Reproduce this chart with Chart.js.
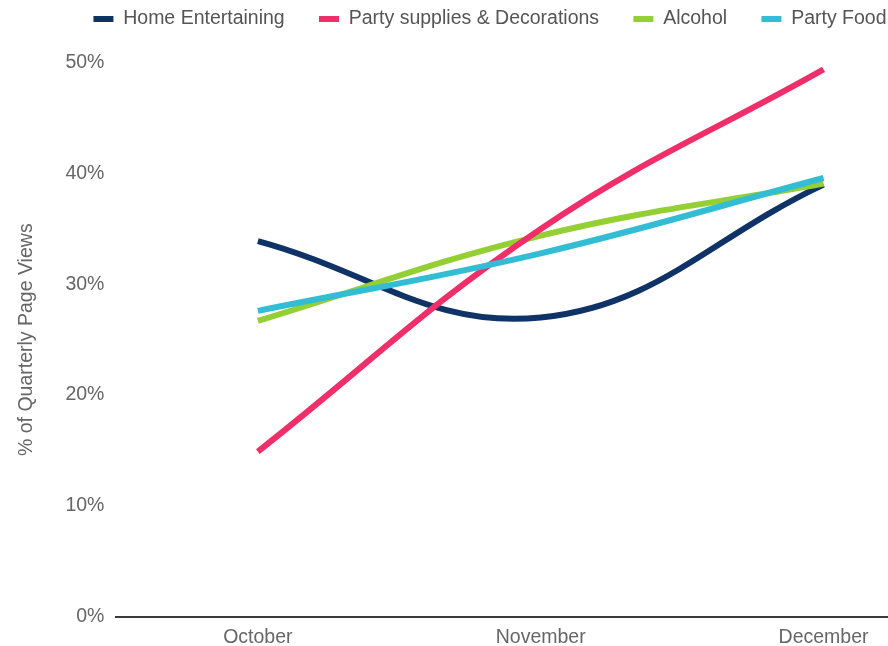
<!DOCTYPE html>
<html>
<head>
<meta charset="utf-8">
<script src="https://cdn.jsdelivr.net/npm/chart.js@4.4.0/dist/chart.umd.min.js"></script>
<style>
html,body{margin:0;padding:0;background:#fff;overflow:hidden;width:888px;height:646px;}
canvas{display:block;margin-top:-25px;}
</style>
</head>
<body>
<canvas id="c" width="965" height="689"></canvas>
<script>
const categories = ["October", "November", "December"];
const homeEntertaining = [33.9, 27.0, 39.0];
const partySupplies = [14.9, 35.0, 49.4];
const alcohol = [26.7, 34.4, 39.1];
const partyFood = [27.6, 32.8, 39.6];
const yTicks = [0, 10, 20, 30, 40, 50];

const FONT = "'Liberation Sans', Arial, sans-serif";
Chart.defaults.font.family = FONT;
Chart.defaults.color = "#666";

const legendExtra = {
  id: 'legendExtra',
  beforeInit(chart) {
    const fit = chart.legend.fit;
    chart.legend.fit = function () {
      fit.call(this);
      this.height += 24;
    };
  }
};

new Chart(document.getElementById('c'), {
  type: 'line',
  data: {
    labels: categories,
    datasets: [
      {label: "Home Entertaining", data: homeEntertaining, borderColor: "#0f3366", backgroundColor: "#0f3366", order: 4},
      {label: "Party supplies & Decorations", data: partySupplies, borderColor: "#f02e6a", backgroundColor: "#f02e6a", order: 2},
      {label: "Alcohol", data: alcohol, borderColor: "#94cf33", backgroundColor: "#94cf33", order: 3},
      {label: "Party Food", data: partyFood, borderColor: "#33bdd4", backgroundColor: "#33bdd4", order: 1}
    ].map(d => Object.assign(d, {borderWidth: 6, pointRadius: 0, pointHoverRadius: 0, tension: 0.4, fill: false}))
  },
  plugins: [legendExtra],
  options: {
    responsive: false,
    animation: false,
    events: [],
    layout: {padding: {top: 0, left: 15, right: 0, bottom: 6}},
    plugins: {
      tooltip: {enabled: false},
      legend: {
        position: 'top',
        labels: {
          boxWidth: 20, boxHeight: 6, padding: 34.3, font: {size: 19.5}, color: "#555",
          generateLabels(chart) {
            const items = Chart.defaults.plugins.legend.labels.generateLabels(chart);
            items.forEach(it => { it.lineWidth = 0; });
            return items.sort((a, b) => a.datasetIndex - b.datasetIndex);
          }
        }
      }
    },
    scales: {
      x: {
        type: 'category',
        offset: true,
        grid: {display: false, drawTicks: false},
        border: {display: true, color: "#3a3a3a", width: 2},
        ticks: {font: {size: 19.5}, color: "#666", padding: 9}
      },
      y: {
        min: 0, max: 50,
        afterBuildTicks: axis => { axis.ticks = yTicks.map(v => ({value: v})); },
        grid: {display: false, drawTicks: false},
        border: {display: false},
        ticks: {font: {size: 19.5}, color: "#666", padding: 12, callback: v => v + "%"},
        title: {display: true, text: "% of Quarterly Page Views", font: {size: 19.5}, color: "#666", padding: {top: 0, bottom: 15}}
      }
    }
  }
});
</script>
</body>
</html>
